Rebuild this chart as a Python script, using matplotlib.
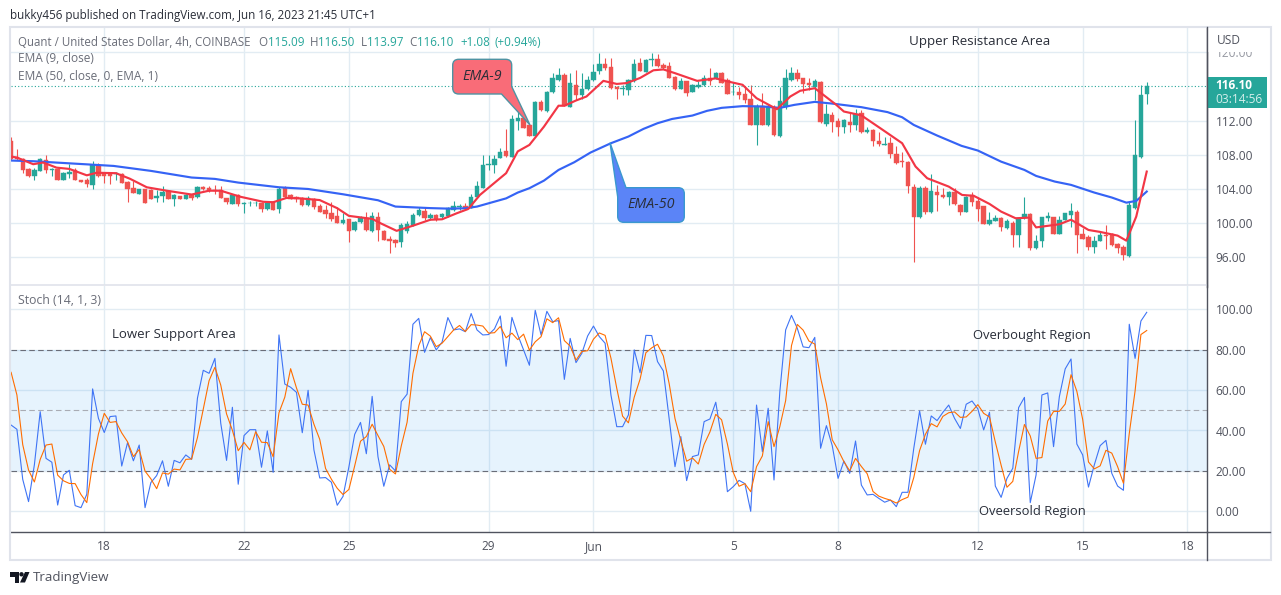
import numpy as np
import matplotlib
matplotlib.use("Agg")
import matplotlib.pyplot as plt
from matplotlib.patches import Rectangle, Polygon, Circle, PathPatch
from matplotlib.path import Path
from matplotlib.ticker import FuncFormatter

plt.rcParams["font.family"] = ["Open Sans", "DejaVu Sans"]

# 4h candles
opens = [109.63,107.8,107.5,106.35,105.55,106.1,107.4,106.2,106.3,105.05,
105.75,106.2,105.05,105.05,104.5,106.85,105.85,105.85,105.8,105.8,
104.8,104.1,103.45,104.05,103.9,103,103.2,103.8,102.85,103.15,
102.85,103.3,103.1,104.25,104.15,103.9,103.9,102.95,102.25,103.25,
102.25,102.35,102.35,102.3,101.6,102.5,101.6,104.1,103.3,103.1,
102.9,102.1,102.8,102.05,101.55,101.15,100.85,100,100.45,99.2,
100.1,100.6,99.1,100.75,99.1,98.15,98.05,97.85,99.1,99.8,
100.9,101.45,100.55,100.95,100.75,100.85,101.55,101.85,102,101.8,
103.05,104.15,106.75,106.75,107.65,108.45,107.8,112,112.3,111.5,
110.2,114.2,113.15,115.3,116.8,117.4,113.65,116.15,115,115.7,
116.8,117.8,118.65,118.3,116,115.7,115.6,116.6,118.75,117.75,
119.05,119.25,118.55,118.45,117.15,115.75,116.6,115.35,116,116.15,
116.95,116.95,117.55,116.8,115.3,115.3,115.15,114.55,111.5,113.75,
111.45,113.65,110.15,113.55,116.8,117.6,116.95,116.4,116,116.55,
111.6,112.7,112,111.3,111.9,111.5,112.95,110.7,110.9,109.65,
109.2,109.35,108.1,107.3,107.2,104.2,100.75,104.15,101.25,103.6,
103.3,103.1,103.6,102.15,101.35,103.25,102.65,101.95,99.9,100.3,
100.55,99.4,100,98.6,100.55,101.1,97.05,97.95,100.65,100.7,
98.75,100.4,101,101.3,98.7,98.35,97.25,97.95,98.65,98.7,
97.55,97.25,96.15,101.75,107.7,115.09]
highs = [110.1,108.7,107.6,106.4,106.4,107.6,108,106.4,106.4,106,
106.9,106.4,105.1,105.25,107.25,107,105.9,105.9,106,105.85,
104.9,104.95,104,104.05,103.95,103.9,104.35,103.9,103.4,103.2,
103.4,103.4,104.3,104.3,104.3,104.45,104.35,103,103.3,103.4,
102.5,102.65,102.65,102.45,102.35,102.6,104.2,104.3,103.4,103.2,
103.1,103.2,102.9,102.2,102.15,102.45,101.9,101.15,100.5,100.2,
100.8,101.25,101.25,101.25,99.2,98.55,98.1,100.05,100.2,101.2,
101.85,101.85,101.2,101.05,101.15,101.85,102.6,102.25,102.4,103.4,
104.9,108,108,108,108.75,111,112.65,114,112.5,111.6,
114.3,114.4,115.5,117.6,118.15,117.6,117.6,117.95,117.55,117.2,
118.6,119.9,119.3,119.3,116.1,116.2,116.9,119.25,119.3,119.2,
119.9,119.8,118.75,118.85,117.2,117,116.7,116.25,116.6,117.3,
118.2,117.7,117.7,117,116.55,116,116,116.2,114,115.2,
113.9,113.8,116,118.1,118.3,118,117,117,116.85,116.7,
114,113,112.3,112.15,112.9,113.35,113.3,111.3,111,110.7,
110.05,110.05,109.05,108.3,107.3,104.55,104.4,104.3,105.75,104.5,
104.1,103.8,104.1,102.2,103.2,103.7,103.1,102,101.35,100.95,
100.7,100.5,100.2,100.7,103.1,101.2,98.6,100.7,101.25,100.75,
100.85,101.2,102.3,101.55,99.45,98.6,98.5,99,99.8,98.9,
97.7,97.4,102.5,112.1,116.2,116.5]
lows = [107.4,107.4,105.85,105.45,105.05,106.05,105.85,105.55,105.05,105,
105.25,105,104.8,104.2,104,105.4,104.65,104.6,105.05,104.7,
102.5,103.5,103.4,102.4,102.8,102.45,102.5,102.8,102.05,102.8,
102.8,102.7,102.9,103.9,103.7,103.45,102.95,102.25,102.2,101.95,
101.15,101.95,101.95,101.35,101.5,101.5,101.15,103,102.8,102.5,
102.05,102.05,101.6,101.3,100.6,100.2,100,99.95,97.85,99.1,
100,99.1,99,97.9,98,96.55,97.25,97.25,98.9,99.7,
100.85,100.4,100.4,100.25,100.5,100.7,101.4,101.55,101.55,101.75,
103,104.1,106.25,105.85,107.6,107.8,107.75,110.9,111.1,110.2,
110.1,113.1,113,115.2,116.6,113.7,113.6,114.45,114.5,115.6,
116.7,117.5,117.9,115.7,114.55,114.95,115,116.5,117.8,117.7,
118.35,118.3,118.1,116.95,115.6,115.7,114.85,115.3,115.8,116.1,
116.2,116.9,116.4,115.1,115,114.5,114.1,111.45,109.1,111.45,
111.4,110.25,110.05,113.4,116.7,116.7,115.2,115.55,114.45,111.75,
111.4,110.7,110.15,110.6,110.7,110.9,110.6,110.5,109,109,
109.1,107.6,106.95,106.6,103.5,95.4,100.6,101.1,101.15,101.45,
102.9,102.1,102.1,100.9,101.25,101.95,100.25,99.85,99.8,100.2,
99.1,99.35,97.25,97.25,100.5,96.85,97,97.25,100.3,98.7,
98.7,100.35,99.5,96.55,98.1,96.85,96.55,97.9,97,97.35,
96.55,95.7,96,101.7,107.65,113.97]
closes = [107.5,107.5,106.2,105.5,106.2,107.5,106.2,106.3,105.05,105.85,
106,105,104.85,104.6,106.8,105.5,105.5,105.55,105.85,104.75,
104,103.55,104,102.4,102.85,103.15,103.7,102.85,103.3,102.85,
103.25,102.9,104.25,104,103.8,103.75,103,102.45,103.25,102.2,
102.35,102.4,102.4,101.6,102.3,101.55,104,103.05,102.85,102.85,
102.1,102.9,101.85,101.35,101.05,100.45,100,100.4,99.05,100.15,
100.6,99.2,100.85,99.2,98.05,97.95,97.7,99.8,99.95,100.95,
101.55,100.55,100.9,100.45,101.1,101.75,102,101.95,101.8,103.1,
104.3,106.8,106.9,107.5,108.35,107.85,112.2,112.3,111.15,110.2,
114.2,113.25,115.4,117,117.4,113.75,116.45,115,115.7,116.8,
117.7,118.65,118.15,115.8,115.7,115.85,116.8,118.65,117.85,119.1,
119.2,118.4,118.15,117,115.75,116.6,115.2,116.15,116.15,117.05,
116.7,117.55,116.45,115.15,115.4,115.05,114.45,111.5,113.75,111.5,
113.75,110.3,114.3,117,117.55,116.85,116.25,116.15,116.7,111.8,
112.8,111.9,111.3,112.1,111.5,112.75,110.7,110.85,109.65,109.3,
109.3,108.05,107,107.2,104.3,100.75,104.15,101.25,103.75,103.25,
103.1,103.6,102.2,101.25,103.1,102.5,101.65,99.9,100.4,100.65,
99.5,100.2,98.6,100.55,101.1,97.05,97.95,100.7,100.85,98.75,
100.4,101.15,101.4,98.6,98.15,97.25,97.95,98.6,98.5,97.45,
97.1,96.25,102.15,108,115,116.1]

# EMA lines, read at the bends
ema9_bar = [0,1,3.8,5.5,7.8,10,13,14.7,18,20.4,23.3,26.7,31,34,36,39.3,43.3,45,47.3,49.6,53,56,58,62,63.4,66.2,69,72,
74,76.5,78.5,80.5,85,87,89,91.5,94,95,97,98.8,101.7,104,105.7,108,110.3,112,114,117.8,121,123,125.6,128,131.5,133.8,135.5,138,141.7,143,146,
149.5,153,155.3,157.3,161,163.3,165.3,168,170,172.5,174.8,176,180,182,185,187,190,191.5,193.2,195]
ema9_val = [107.8,107.68,106.9,107.1,106.5,106.35,105.6,105.9,105.85,105.2,104.2,103.8,103.35,103.8,103.8,103.1,102.5,102.45,102.95,102.9,102.7,101.75,100.85,100.5,100,99.1,99.7,100.4,
100.45,101.15,101.66,103.3,105.85,108.4,109.16,111.3,113.75,113.75,114.36,114.83,116.66,116.3,116.4,117,117.9,118,117.56,116.66,116.95,116.6,116.2,114.63,113.34,114.83,115.5,115.8,113.85,113.07,112.62,
111,109.36,106.63,105.26,104.28,103.3,103.2,102.25,101.35,100.57,100.65,99.5,99.87,100.4,99.2,98.97,98.54,97.95,100.77,106.04]
ema50_bar = [0,3.8,9.6,17.6,24,31,35,39,46,51,57,63,66,72,75,78,80,85,87,89,91.5,94,96.7,99.5,103,106,108.6,111,113.5,117,119.5,122,125.6,129,132,134.5,138,141,146,
150.5,153,155,159,163.2,166,170,174,176,179.2,182,186,189,191.5,193.2,195]
ema50_val = [107.33,107.25,107.02,106.7,106.12,105.34,105.18,104.75,104.2,104,103.38,102.68,101.94,101.76,101.7,101.74,101.94,102.9,103.58,104.09,104.98,106.23,107.13,108.27,109.36,110.14,111.04,111.7,112.2,112.6,113.15,113.5,113.7,113.66,113.5,113.85,114.2,114,113.58,
113,112.4,111.5,110.26,109.05,108.5,107.2,106.23,105.53,104.87,104.48,103.58,103,102.4,102.6,103.7]

stoch_k = [42.7,40.6,15.8,4.8,23,49.3,26.2,24.3,3.1,18,
20.3,2.8,1.8,8.4,60.6,46,39,46.9,47.2,22.4,
34,25,32.8,1.8,14.2,17.7,25,12.4,25.2,24,
27.9,25.7,56,69.8,68.3,75.7,43.6,25.2,51.5,13.4,
37.5,40.4,40.4,21.8,39.8,19.3,87.3,63,61.4,58.9,
38.9,59.9,30.4,16.5,16.7,14.4,3,7.4,21.9,38.1,
44,28.5,56.9,27,12.4,23,20,54.3,58,92.6,
95.5,78.7,86,79.9,83.7,95.9,89.8,90.3,88.9,97.9,
89.8,87.3,87.5,90.3,96.7,71.8,96,87.3,79.9,72.3,
99.5,87.3,99,93.9,94.4,65.3,85.6,73.6,78.2,86.8,
91.7,86.5,83.2,57.6,41.9,41.9,47.7,79.9,68.6,87.1,
87,74.1,69.5,46,22.1,37,15.2,27.1,27.9,44.4,
45.7,54,36.1,9.7,12.2,15.3,13.7,0,52.6,29.5,
51,15.5,59.2,89.8,97,90.6,81.4,81,86.1,31.2,
42.4,32.5,16.3,24.9,18.8,34.8,13,8.1,8.4,6.4,
4.5,5.6,2.3,9.4,9.4,31.2,49.7,33.2,47.2,44.9,
49,52.6,46,41,53,54.6,50.7,40.3,49,12.5,
6.9,16.3,21.3,51.3,56.4,4.3,18,57.6,58.6,32,
56.8,70.5,75.4,33.3,27.9,12,23,32.5,35.1,18.8,
12.5,10.4,92.6,75.7,94.2,98.5]
stoch_d = [68.8,57.6,33,20.4,14.5,25.7,32.8,33.3,17.9,15.1,
13.8,13.7,8.3,4.3,23.6,38.3,48.5,44,44.4,38.8,
34.4,27.1,30.6,19.9,16.1,11.2,19,18.4,20.9,20.5,
25.7,25.9,36.5,50.5,64.7,71.3,62.5,48.2,40.1,30,
34.1,30.4,39.4,34.2,34,27,48.8,56.5,70.6,61.1,
53,52.6,43.1,35.6,21.2,15.9,11.4,8.3,10.8,22.5,
34.7,37,43.1,37.5,32.1,20.8,18.5,32.4,44.1,68.3,
82,88.9,86.7,81.5,83.2,86.5,89.8,92,89,92.4,
92.2,91.7,88.2,88.4,91.5,85.9,88.2,85,87.7,79.8,
83.9,86.4,95.3,93.4,95.8,84.5,81.8,74.8,79.1,79.5,
85.2,88.3,87.1,75.8,60.9,47.1,43.8,56.5,65.4,78.5,
80.9,82.7,76.9,63.2,45.9,35,24.8,26.4,23.4,33.1,
39.3,48,45.3,33.3,19.3,12.4,13.7,9.7,22.1,27.4,
44.4,32,41.9,54.8,82,92.5,89.7,84.3,82.8,66.1,
53.2,35.4,30.4,24.6,20,26.2,22.2,18.6,9.8,7.5,
6.4,5.5,4.1,5.8,7,16.7,30.1,38.1,43.4,41.8,
47,48.8,49.2,46.5,46.7,49.5,52.8,48.5,46.7,34.3,
22.8,11.9,14.8,29.6,43,37.3,26.2,26.6,44.7,49.4,
49.5,53.1,67.6,59.4,45.5,24.4,21,22.5,30.2,28.8,
22.1,13.9,38.5,59.6,87.5,89.5]

day_ticks = [16, 40, 58, 82, 100, 124, 142, 166, 184, 202]
day_labels = ["18", "22", "25", "29", "Jun", "5", "8", "12", "15", "18"]
price_ticks = [96, 100, 104, 108, 112, 120]
stoch_ticks = [0, 20, 40, 60, 80, 100]
last_price = 116.10

W, H = 1281, 595
GREEN = "#26a69a"
RED = "#ef5350"
GRID = "#e2ecf3"
TXT = "#50535e"
DARK = "#2a2e39"


def place(x0, y0, x1, y1):
    # pixel box (y down) to figure fraction
    return [x0 / W, 1 - y1 / H, (x1 - x0) / W, (y1 - y0) / H]


fig = plt.figure(figsize=(W / 100, H / 100), dpi=100, facecolor="white")
ax = fig.add_axes(place(10.5, 27, 1207.3, 285))
ax2 = fig.add_axes(place(10.5, 286, 1207.3, 532.3), sharex=ax)

bars = np.arange(len(opens))
o, h, l, c = map(np.array, (opens, highs, lows, closes))
colors = np.where(c >= o, GREEN, RED)

ax.vlines(bars, l, h, colors=colors, lw=0.8, zorder=2)
ax.bar(bars, np.abs(c - o), bottom=np.minimum(o, c), width=0.76, color=colors,
       edgecolor=colors, linewidth=0.3, zorder=3)
ax.plot(ema50_bar, ema50_val, color="#3563f5", lw=1.55, zorder=4)
ax.plot(ema9_bar, ema9_val, color="#f23645", lw=1.55, zorder=5)
ax.axhline(last_price, color=GREEN, lw=0.8, ls=(0, (1, 2)), zorder=2)

ax2.axhspan(20, 80, color="#2196f3", alpha=0.11, lw=0, zorder=1)
for lev, col in [(80, "#6a6d78"), (50, "#a9acb4"), (20, "#6a6d78")]:
    ax2.axhline(lev, color=col, lw=0.8, ls=(0, (5, 3)), zorder=2)
ax2.plot(bars, stoch_k, color="#3f74f5", lw=0.8, zorder=3)
ax2.plot(bars, stoch_d, color="#ff6d00", lw=0.8, zorder=4)

ax.set_xlim(-0.1, 205.4)
ax.set_ylim(96 - (285 - 257.3) / 8.54, 96 + (257.3 - 27) / 8.54)
ax2.set_ylim(-(532.3 - 511.3) / 2.02, 100 + (309.3 - 286) / 2.02)

fmt = FuncFormatter(lambda v, _: f"{v:.2f}")
for a, yt in ((ax, price_ticks), (ax2, stoch_ticks)):
    a.set_yticks(yt)
    a.yaxis.set_major_formatter(fmt)
    a.yaxis.tick_right()
    a.grid(True, color=GRID, lw=1.0, zorder=0)
    a.set_axisbelow(True)
    a.tick_params(axis="y", length=0, pad=6, labelsize=8.6, labelcolor=TXT)
    for s in a.spines.values():
        s.set_visible(False)
    a.spines["right"].set_visible(True)
    a.spines["right"].set_color(TXT)
    a.spines["right"].set_linewidth(1.0)

ax.set_xticks(day_ticks)
ax2.set_xticks(day_ticks)
ax2.set_xticklabels(day_labels)
ax.tick_params(axis="x", length=0, labelbottom=False)
ax2.tick_params(axis="x", length=0, pad=5.8, labelsize=8.6, labelcolor=TXT)
ax.yaxis.get_major_ticks()[-1].label2.set_color("#9598a1")
ax2.spines["bottom"].set_visible(True)
ax2.spines["bottom"].set_color(TXT)
ax2.spines["bottom"].set_linewidth(1.0)

# overlay in screen pixels for the page chrome, notes and callouts
ov = fig.add_axes([0, 0, 1, 1], zorder=10)
ov.set_xlim(0, W)
ov.set_ylim(H, 0)
ov.axis("off")

FRAME = "#e0e3eb"
ov.add_patch(Rectangle((10, 27), 1260.5, 533, fill=False, ec=FRAME, lw=1.5))
ov.plot([10.5, 1207.3], [285.3, 285.3], color=FRAME, lw=1.2)
ov.plot([1207.3, 1207.3], [532, 560], color=TXT, lw=1.0)
ov.plot([1207.3, 1270], [532.3, 532.3], color=TXT, lw=1.0)
ov.plot([1207.3, 1207.3], [27, 287], color=TXT, lw=1.0)
ov.add_patch(Rectangle((1208, 28), 60, 23.5, fc="white", ec="none"))


def label(x, y, s, color=TXT, size=8.6, **kw):
    ov.text(x, y, s, color=color, fontsize=size, va="center", ha=kw.pop("ha", "left"), **kw)


label(10, 15, "bukky456 published on TradingView.com, Jun 16, 2023 21:45 UTC+1", color=DARK, size=8.35)
label(18, 42, "Quant / United States Dollar, 4h, COINBASE", color="#6a6d78", size=8.3)
for x, s, col in [(258.7, "O", "#6a6d78"), (267.7, "115.09", GREEN), (309.7, "H", "#6a6d78"), (317.7, "116.50", GREEN),
                  (361, "L", "#6a6d78"), (366.7, "113.97", GREEN), (409.5, "C", "#6a6d78"), (416.5, "116.10", GREEN),
                  (460, "+1.08", GREEN), (494.3, "(+0.94%)", GREEN)]:
    label(x, 42, s, color=col, size=8.4)
label(18, 59, "EMA (9, close)", color="#6a6d78")
label(18, 76, "EMA (50, close, 0, EMA, 1)", color="#6a6d78")
label(18, 301, "Stoch (14, 1, 3)", color="#6a6d78", size=8.8)
label(1217, 41, "USD")

label(909, 41.5, "Upper Resistance Area", color=DARK, size=9.6)
label(112, 334.5, "Lower Support Area", color=DARK, size=9.5)
label(973, 335.5, "Overbought Region", color=DARK, size=9.4)
label(979, 511.5, "Oveersold Region", color=DARK, size=9.4)

# last price tag
ov.add_patch(Rectangle((1207.5, 77.3), 59.2, 30.4, fc=GREEN, ec="none"))
label(1215.5, 85.5, "116.10", color="white", fontweight="bold")
label(1215, 99.5, "03:14:56", color="#d4eeeb")


def callout(box, r, tail, corner, fc, ec):
    # rounded box whose tail replaces one corner, tail = (tip, base on right/top, base on bottom/left)
    x0, y0, x1, y1 = box
    tip, base_a, base_b = tail
    verts, codes = [], []

    def go(p, code=Path.LINETO):
        verts.append(p)
        codes.append(code)

    def arc(ctrl, end):
        go(ctrl, Path.CURVE3)
        go(end, Path.CURVE3)

    go(base_a if corner == "tl" else (x0 + r, y0), Path.MOVETO)
    go((x1 - r, y0))
    arc((x1, y0), (x1, y0 + r))
    if corner == "br":
        go(base_a)
        go(tip)
        go(base_b)
    else:
        go((x1, y1 - r))
        arc((x1, y1), (x1 - r, y1))
    go((x0 + r, y1))
    arc((x0, y1), (x0, y1 - r))
    if corner == "tl":
        go(base_b)
        go(tip)
        go(base_a)
    else:
        go((x0, y0 + r))
        arc((x0, y0), (x0 + r, y0))
    go(verts[0], Path.CLOSEPOLY)
    ov.add_patch(PathPatch(Path(verts, codes), fc=fc, ec=ec, lw=1.0, zorder=6))


callout((452.7, 59.3, 511.7, 94), 6, ((530, 125), (511.7, 86.5), (501.5, 94)), "br", "#f96c78", "#4f93a3")
callout((617.7, 187.7, 684.3, 222.3), 6, ((610, 142.7), (626, 187.7), (617.7, 197)), "tl", "#5b84f7", "#3a98cf")
ov.text(482.5, 76.5, "EMA-9", color=DARK, fontsize=10.3, style="italic", ha="center", va="center", zorder=7)
ov.text(651.5, 204.5, "EMA-50", color=DARK, fontsize=10.3, style="italic", ha="center", va="center", zorder=7)

# TradingView logo
LOGO = "#131722"
ov.add_patch(Polygon([(10, 572), (19, 572), (19, 582.5), (14.5, 582.5), (14.5, 576.5), (10, 576.5)], fc=LOGO, ec="none"))
ov.add_patch(Circle((21.5, 574.3), 2.2, fc=LOGO, ec="none"))
ov.add_patch(Polygon([(25, 572), (29.5, 572), (25, 582.5), (20, 582.5)], fc=LOGO, ec="none"))
label(33, 577.5, "TradingView", color="#50535e", size=9.6)

fig.savefig("out.png", dpi=100, facecolor="white")
